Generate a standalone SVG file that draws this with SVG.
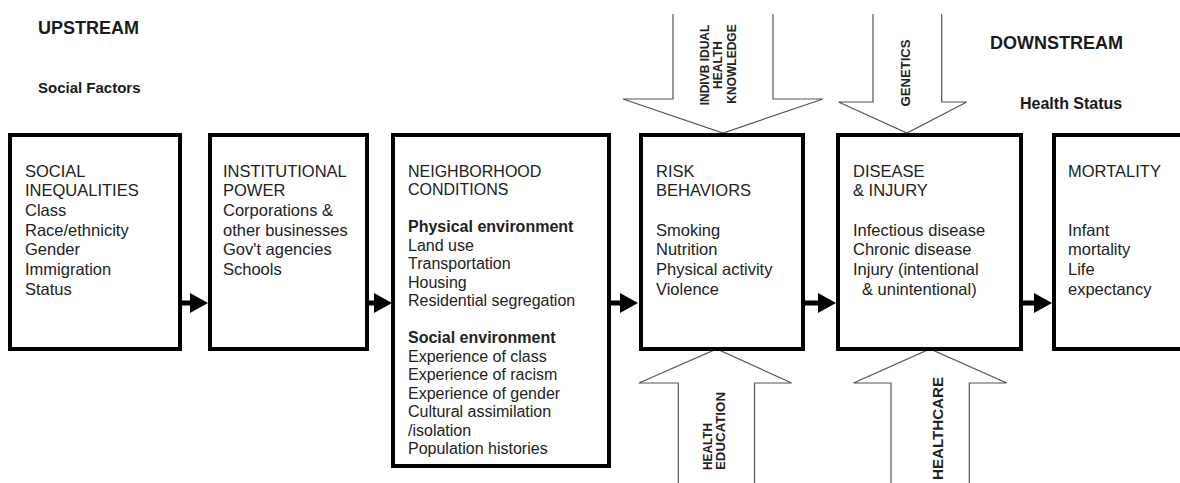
<svg xmlns="http://www.w3.org/2000/svg" width="1180" height="483" viewBox="0 0 1180 483">
<style>
.box{fill:#fff;stroke:#000;stroke-width:4}
.t{font-family:"Liberation Sans",Arial,sans-serif;font-size:16.5px;fill:#222}
.t3{font-family:"Liberation Sans",Arial,sans-serif;font-size:16px;fill:#222}
.b{font-weight:bold}
.hd{font-family:"Liberation Sans",Arial,sans-serif;font-weight:bold;fill:#1a1a1a}
.big{fill:#fff;stroke:#555;stroke-width:1.2}
.lbl{font-family:"Liberation Sans",Arial,sans-serif;font-weight:bold;fill:#222}
.conn{stroke:#000;stroke-width:5;fill:none}
</style>
<defs>
<marker id="ah" viewBox="0 0 18 20" refX="0" refY="10" markerWidth="18" markerHeight="20" markerUnits="userSpaceOnUse" orient="auto">
<path d="M0,0 L18,10 L0,20 z" fill="#000"/>
</marker>
</defs>
<rect width="1180" height="483" fill="#fff"/>

<g id="headings">
<text class="hd" x="38" y="34" font-size="18">UPSTREAM</text>
<text class="hd" x="38" y="93" font-size="15">Social Factors</text>
<text class="hd" x="990" y="49" font-size="18">DOWNSTREAM</text>
<text class="hd" x="1020" y="109" font-size="16">Health Status</text>
</g>

<g id="knowledge">
<path class="big" d="M673,14 V99 H623 L723,133 L823,99 H773 V14"/>
<text class="lbl" font-size="12" text-anchor="middle" transform="translate(708.5,65) rotate(-90)">INDIVB IDUAL</text>
<text class="lbl" font-size="12" text-anchor="middle" transform="translate(722,65) rotate(-90)">HEALTH</text>
<text class="lbl" font-size="12" text-anchor="middle" transform="translate(735.5,64) rotate(-90)">KNOWLEDGE</text>
</g>
<g id="genetics">
<path class="big" d="M873,14 V102 H838.5 L907,133 L966.7,102 H941.7 V14"/>
<text class="lbl" font-size="13" text-anchor="middle" textLength="67" lengthAdjust="spacingAndGlyphs" transform="translate(910,73) rotate(-90)">GENETICS</text>
</g>
<g id="education">
<path class="big" d="M678.3,483 V383 H639 L716.7,349 L791.7,383 H754.5 V483"/>
<text class="lbl" font-size="12.5" textLength="47" lengthAdjust="spacingAndGlyphs" transform="translate(711.5,470) rotate(-90)">HEALTH</text>
<text class="lbl" font-size="12.5" textLength="78" lengthAdjust="spacingAndGlyphs" transform="translate(725,470) rotate(-90)">EDUCATION</text>
</g>
<g id="healthcare">
<path class="big" d="M891,483 V383 H853.5 L930,349 L1006.7,383 H969.3 V483"/>
<text class="lbl" font-size="15" textLength="103" lengthAdjust="spacingAndGlyphs" transform="translate(943,480) rotate(-90)">HEALTHCARE</text>
</g>

<g id="social-inequalities">
<rect class="box" x="10" y="135" width="170" height="214"/>
<text class="t"><tspan x="25" y="176.5">SOCIAL</tspan><tspan x="25" y="196.2">INEQUALITIES</tspan><tspan x="25" y="215.9">Class</tspan><tspan x="25" y="235.6">Race/ethnicity</tspan><tspan x="25" y="255.3">Gender</tspan><tspan x="25" y="275">Immigration</tspan><tspan x="25" y="294.7">Status</tspan></text>
</g>
<g id="institutional-power">
<rect class="box" x="210" y="135" width="157" height="214"/>
<text class="t"><tspan x="223" y="176.5">INSTITUTIONAL</tspan><tspan x="223" y="196.2">POWER</tspan><tspan x="223" y="215.9">Corporations &amp;</tspan><tspan x="223" y="235.6">other businesses</tspan><tspan x="223" y="255.3">Gov't agencies</tspan><tspan x="223" y="275">Schools</tspan></text>
</g>
<g id="neighborhood-conditions">
<rect class="box" x="393" y="135" width="216" height="331"/>
<text class="t3"><tspan x="408" y="176.5">NEIGHBORHOOD</tspan><tspan x="408" y="195">CONDITIONS</tspan><tspan x="408" y="232" class="b">Physical environment</tspan><tspan x="408" y="250.5">Land use</tspan><tspan x="408" y="269">Transportation</tspan><tspan x="408" y="287.5">Housing</tspan><tspan x="408" y="306">Residential segregation</tspan><tspan x="408" y="343" class="b">Social environment</tspan><tspan x="408" y="361.5">Experience of class</tspan><tspan x="408" y="380">Experience of racism</tspan><tspan x="408" y="398.5">Experience of gender</tspan><tspan x="408" y="417">Cultural assimilation</tspan><tspan x="408" y="435.5">/isolation</tspan><tspan x="408" y="454">Population histories</tspan></text>
</g>
<g id="risk-behaviors">
<rect class="box" x="641" y="135" width="162" height="214"/>
<text class="t"><tspan x="656" y="176.5">RISK</tspan><tspan x="656" y="196.2">BEHAVIORS</tspan><tspan x="656" y="235.6">Smoking</tspan><tspan x="656" y="255.3">Nutrition</tspan><tspan x="656" y="275">Physical activity</tspan><tspan x="656" y="294.7">Violence</tspan></text>
</g>
<g id="disease-injury">
<rect class="box" x="838" y="135" width="183" height="214"/>
<text class="t"><tspan x="853" y="176.5">DISEASE</tspan><tspan x="853" y="196.2">&amp; INJURY</tspan><tspan x="853" y="235.6">Infectious disease</tspan><tspan x="853" y="255.3">Chronic disease</tspan><tspan x="853" y="275">Injury (intentional</tspan><tspan x="862" y="294.7">&amp; unintentional)</tspan></text>
</g>
<g id="mortality">
<rect class="box" x="1054" y="135" width="200" height="214"/>
<text class="t"><tspan x="1068" y="176.5">MORTALITY</tspan><tspan x="1068" y="235.6">Infant</tspan><tspan x="1068" y="255.3">mortality</tspan><tspan x="1068" y="275">Life</tspan><tspan x="1068" y="294.7">expectancy</tspan></text>
</g>

<g id="connectors">
<line class="conn" x1="182" y1="303" x2="190" y2="303" marker-end="url(#ah)"/>
<line class="conn" x1="365" y1="303" x2="374" y2="303" marker-end="url(#ah)"/>
<line class="conn" x1="611" y1="303" x2="620" y2="303" marker-end="url(#ah)"/>
<line class="conn" x1="805" y1="303" x2="818" y2="303" marker-end="url(#ah)"/>
<line class="conn" x1="1023" y1="303" x2="1034" y2="303" marker-end="url(#ah)"/>
</g>
</svg>
